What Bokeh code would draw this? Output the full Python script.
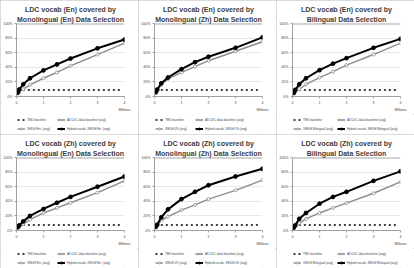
from bokeh.plotting import figure
from bokeh.layouts import column, row
from bokeh.models import NumeralTickFormatter, Legend, LegendItem, FixedTicker, Range1d, Title
from bokeh.embed import file_html
from bokeh.resources import INLINE

# data (millions of words selected vs. fraction of LDC vocab covered)
sizes = [0.05, 0.1, 0.25, 0.5, 1, 1.5, 2, 3, 4]
ted_x = [0.05, 3.9]
ldc_x = [0, 4]

title_line1 = [
    "LDC vocab (En) covered by",
    "LDC vocab (En) covered by",
    "LDC vocab (En) covered by",
    "LDC vocab (Zh) covered by",
    "LDC vocab (Zh) covered by",
    "LDC vocab (Zh) covered by",
]
title_line2 = [
    "Monolingual (En) Data Selection",
    "Monolingual (Zh) Data Selection",
    "Bilingual Data Selection",
    "Monolingual (En) Data Selection",
    "Monolingual (Zh) Data Selection",
    "Bilingual Data Selection",
]
method_names = ["En.", "Zh", "Bilingual", "En.", "Zh", "Bilingual"]

ted_baseline = [0.09, 0.09, 0.09, 0.075, 0.075, 0.075]
ldc_baseline = [1.0, 1.0, 1.0, 1.0, 1.0, 1.0]

xediff = [
    [0.04, 0.06, 0.10, 0.16, 0.25, 0.33, 0.42, 0.575, 0.73],
    [0.05, 0.08, 0.165, 0.24, 0.33, 0.41, 0.49, 0.62, 0.75],
    [0.04, 0.06, 0.10, 0.165, 0.26, 0.34, 0.43, 0.575, 0.73],
    [0.04, 0.055, 0.09, 0.15, 0.24, 0.31, 0.38, 0.52, 0.68],
    [0.045, 0.07, 0.14, 0.19, 0.28, 0.35, 0.43, 0.55, 0.69],
    [0.04, 0.06, 0.10, 0.16, 0.24, 0.31, 0.375, 0.51, 0.665],
]
hybrid = [
    [0.054, 0.096, 0.167, 0.25, 0.358, 0.44, 0.52, 0.66, 0.78],
    [0.06, 0.095, 0.18, 0.26, 0.375, 0.47, 0.545, 0.667, 0.81],
    [0.05, 0.09, 0.167, 0.25, 0.36, 0.45, 0.525, 0.667, 0.79],
    [0.045, 0.07, 0.125, 0.20, 0.295, 0.38, 0.46, 0.60, 0.74],
    [0.05, 0.08, 0.18, 0.29, 0.43, 0.53, 0.62, 0.74, 0.846],
    [0.04, 0.07, 0.16, 0.24, 0.367, 0.46, 0.53, 0.68, 0.81],
]

x_ticks = [0, 1, 2, 3, 4]
y_ticks = [0, 0.2, 0.4, 0.6, 0.8, 1.0]

FONT = "Liberation Sans"
TITLE_COLOR = "#404040"
ted_style = dict(line_color="black", line_width=1.6, line_dash="2 3")
ldc_style = dict(line_color="#a6a6a6", line_width=2.2)
xed_style = dict(line_color="#8c8c8c", line_width=1.4)
hyb_style = dict(line_color="black", line_width=2.0)
xed_mark = dict(size=3, marker="circle", fill_color="white", line_color="#8c8c8c", line_width=0.8)
hyb_mark = dict(size=3.8, marker="circle", fill_color="black", line_color="black")


def draw_series(fig, i):
    r_ted = fig.line(ted_x, [ted_baseline[i]] * 2, **ted_style)
    r_ldc = fig.line(ldc_x, [ldc_baseline[i]] * 2, **ldc_style)
    r_xl = fig.line(sizes, xediff[i], **xed_style)
    r_xm = fig.scatter(sizes, xediff[i], **xed_mark)
    r_hl = fig.line(sizes, hybrid[i], **hyb_style)
    r_hm = fig.scatter(sizes, hybrid[i], **hyb_mark)
    return r_ted, r_ldc, r_xl, r_xm, r_hl, r_hm


panels = []
for i in range(6):
    p = figure(width=138, height=114, output_backend="svg", toolbar_location=None,
               title=None, x_range=Range1d(0, 4), y_range=Range1d(0, 1.0),
               min_border_left=12, min_border_right=14, min_border_top=23, min_border_bottom=11)
    for txt in (title_line2[i], title_line1[i]):
        p.add_layout(Title(text=txt, align="center", text_font=FONT, text_font_size="7px",
                           text_font_style="bold", text_color=TITLE_COLOR, standoff=1,
                           offset=0), "above")
    p.outline_line_color = None
    p.border_fill_color = "white"

    p.xgrid.visible = False
    p.ygrid.ticker = FixedTicker(ticks=y_ticks)
    p.ygrid.grid_line_color = "#d9d9d9"
    p.ygrid.grid_line_width = 0.6

    p.xaxis.ticker = FixedTicker(ticks=x_ticks)
    p.yaxis.ticker = FixedTicker(ticks=y_ticks)
    p.yaxis.formatter = NumeralTickFormatter(format="0%")
    for ax in (p.xaxis, p.yaxis):
        ax.major_label_text_font = FONT
        ax.major_label_text_font_size = "3.6px"
        ax.major_label_text_color = "#444444"
        ax.axis_line_color = "#a0a0a0"
        ax.major_tick_line_color = "#a0a0a0"
        ax.major_tick_in = 0
        ax.major_tick_out = 2
        ax.minor_tick_line_color = None
        ax.major_label_standoff = 2
    p.xaxis.axis_label = "Millions"
    p.xaxis.axis_label_text_font = FONT
    p.xaxis.axis_label_text_font_size = "3.6px"
    p.xaxis.axis_label_text_font_style = "normal"
    p.xaxis.axis_label_text_color = "#444444"
    p.xaxis.axis_label_standoff = 1
    p.xaxis.axis_label_align = "end"

    draw_series(p, i)

    # legend strip under each chart (its ranges keep the series out of view)
    lf = figure(width=138, height=20, output_backend="svg", toolbar_location=None,
                title=None, x_range=Range1d(100, 101), y_range=Range1d(100, 101),
                min_border=0, x_axis_type=None, y_axis_type=None)
    lf.grid.visible = False
    lf.outline_line_color = None
    r_ted, r_ldc, r_xl, r_xm, r_hl, r_hm = draw_series(lf, i)
    m = method_names[i]
    items = [
        LegendItem(label="TED baseline", renderers=[r_ted]),
        LegendItem(label="All LDC data baseline (avg)", renderers=[r_ldc]),
        LegendItem(label="XEDiff %s (avg)" % m, renderers=[r_xl, r_xm]),
        LegendItem(label="Hybrid vocab, XEDiff %s (avg)" % m, renderers=[r_hl, r_hm]),
    ]
    leg = Legend(items=items, orientation="horizontal", nrows=2,
                 label_text_font=FONT, label_text_font_size="3.2px",
                 label_text_color="#444444",
                 glyph_width=8, glyph_height=5, label_height=5, label_width=26,
                 label_standoff=2, spacing=4, padding=0, margin=0,
                 border_line_color=None, background_fill_alpha=0)
    lf.add_layout(leg, "center")
    leg.location = (1, 3)
    panels.append(column(p, lf, spacing=0,
                         styles={"outline": "1px solid #cfcfcf", "outline-offset": "-1px"}))

layout = column(row(*panels[0:3], spacing=0), row(*panels[3:6], spacing=0), spacing=0)
open("out.html", "w").write(file_html(layout, INLINE))
